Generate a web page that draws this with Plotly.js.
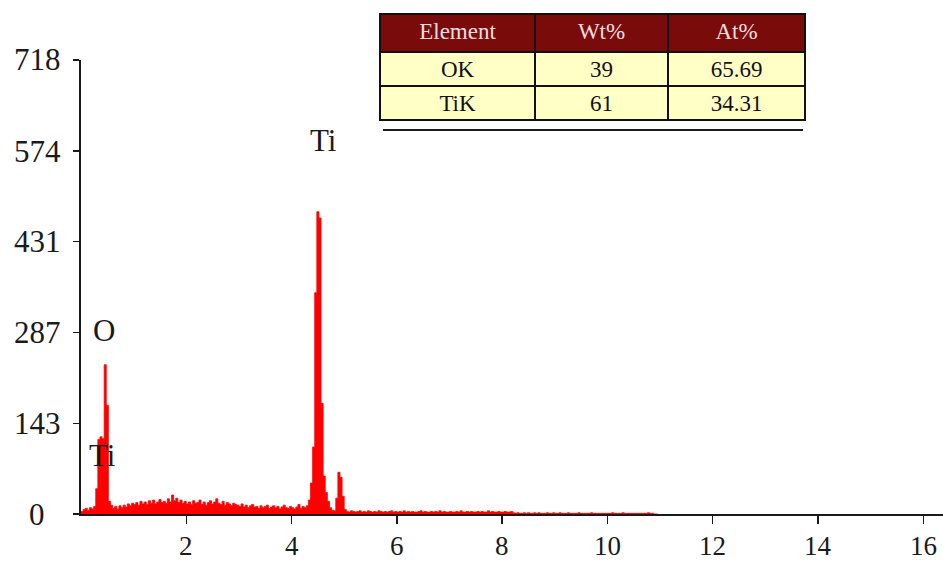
<!DOCTYPE html>
<html>
<head>
<meta charset="utf-8">
<script src="https://cdn.plot.ly/plotly-3.0.1.min.js"></script>
<style>
html,body{margin:0;padding:0;background:#fff;}
#chart{width:943px;height:562px;}
</style>
</head>
<body>
<div id="chart"></div>
<script>
// ---- data ----
const channelStart = 0.0;      // keV
const channelWidth = 0.04;     // keV
const counts = [
  // 0.00 - 0.96 keV
  4, 7, 9, 6, 10, 8, 12, 40, 118, 122, 119, 236, 172, 20, 14, 9, 12, 8, 13, 10, 14, 11, 16, 13, 17,
  // 1.00 - 1.96
  15, 18, 14, 20, 16, 19, 15, 21, 17, 22, 16, 19, 23, 18, 20, 17, 24, 19, 30, 21, 25, 18, 22, 17, 20,
  // 2.00 - 2.96
  16, 19, 15, 21, 17, 18, 22, 15, 19, 14, 18, 21, 16, 19, 24, 17, 15, 20, 14, 18, 16, 13, 17, 15, 14,
  // 3.00 - 3.96
  12, 16, 11, 14, 10, 13, 15, 11, 12, 9, 13, 10, 12, 14, 9, 11, 13, 10, 12, 8, 11, 14, 10, 9, 12,
  // 4.00 - 4.96
  10, 8, 11, 15, 9, 12, 10, 13, 22, 49, 106, 350, 478, 468, 175, 60, 34, 20, 10, 6, 5, 25, 66, 58, 28,
  // 5.00 - 5.96
  7, 4, 3, 5, 4, 3, 4, 5, 3, 4, 3, 5, 4, 3, 4, 3, 5, 4, 3, 4, 3, 4, 5, 3, 4,
  // 6.00 - 6.96
  3, 4, 3, 5, 3, 4, 3, 4, 3, 3, 4, 5, 3, 4, 3, 3, 4, 3, 4, 3, 5, 3, 4, 3, 3,
  // 7.00 - 7.96
  4, 3, 3, 4, 3, 5, 3, 3, 4, 3, 4, 3, 3, 4, 3, 4, 3, 3, 5, 3, 4, 3, 3, 4, 3,
  // 8.00 - 8.96
  3, 4, 3, 3, 4, 2, 1, 2, 1, 1, 2, 1, 2, 1, 1, 2, 1, 2, 1, 1, 1, 2, 1, 1, 2,
  // 9.00 - 9.96
  1, 1, 2, 1, 1, 1, 2, 1, 1, 1, 1, 2, 1, 1, 1, 1, 1, 2, 1, 1, 1, 1, 1, 1, 1,
  // 10.00 - 10.96
  1, 1, 2, 1, 1, 1, 1, 2, 1, 1, 1, 1, 1, 1, 1, 1, 1, 1, 1, 2, 1, 1, 0, 0, 0
];

const energyTicks = [2, 4, 6, 8, 10, 12, 14, 16];
const energyTickLabels = ["2", "4", "6", "8", "10", "12", "14", "16"];
const countTicks = [0, 143, 287, 431, 574, 718];
const countTickLabels = ["0", "143", "287", "431", "574", "718"];

const peakLabels = ["Ti", "O", "Ti"];
const peakLabelEnergy = [4.6, 0.44, 0.40];
const peakLabelCounts = [591, 291, 93];

const tableHeader = ["Element", "Wt%", "At%"];
const tableElements = ["OK", "TiK"];
const tableWt = ["39", "61"];
const tableAt = ["65.69", "34.31"];

// ---- layout ----
const W = 943, H = 562;
const mL = 81, mR = 0, mT = 10, mB = 48;
const plotW = W - mL - mR, plotH = H - mT - mB;
const axisTopPx = 60, axisBottomPx = 514;
const yDomTop = (axisBottomPx - axisTopPx) / plotH;
const px2fx = p => (p - mL) / plotW;
const px2fy = p => (H - mB - p) / plotH;

const serif = "Liberation Serif, Times New Roman, serif";
const ink = "#1a1a1a";

const spectrum = {
  type: "scatter",
  mode: "lines",
  x0: channelStart,
  dx: channelWidth,
  y: counts,
  line: {shape: "hv", color: "#ff0000", width: 0.8},
  fill: "tozeroy",
  fillcolor: "#ff0000",
  hoverinfo: "skip",
  xaxis: "x", yaxis: "y"
};

const table = {
  type: "table",
  domain: {x: [px2fx(380), px2fx(805)], y: [px2fy(140), px2fy(14)]},
  columnwidth: [155, 133, 137],
  header: {
    values: tableHeader.map(h => [h]),
    fill: {color: "#7a0b0b"},
    line: {color: "#111111", width: 2},
    font: {family: serif, size: 23, color: "#f6dede"},
    align: "center",
    height: 38
  },
  cells: {
    values: [tableElements, tableWt, tableAt],
    fill: {color: "#ffffc6"},
    line: {color: "#111111", width: 2},
    font: {family: serif, size: 23, color: "#111111"},
    align: "center",
    height: 34
  }
};

const annotations = [];
peakLabels.forEach((t, i) => {
  annotations.push({
    x: peakLabelEnergy[i], y: peakLabelCounts[i], xref: "x", yref: "y",
    text: t, showarrow: false, xanchor: "center", yanchor: "middle",
    font: {family: serif, size: 31, color: ink}
  });
});
countTicks.forEach((v, i) => {
  annotations.push({
    x: px2fx(37), y: v, xref: "paper", yref: "y",
    text: countTickLabels[i], showarrow: false, xanchor: "center", yanchor: "middle",
    font: {family: serif, size: 31, color: ink}
  });
});
energyTicks.forEach((v, i) => {
  annotations.push({
    x: v, y: px2fy(546), xref: "x", yref: "paper",
    text: energyTickLabels[i], showarrow: false, xanchor: "center", yanchor: "middle",
    font: {family: serif, size: 27, color: ink}
  });
});

const layout = {
  width: W, height: H,
  margin: {l: mL, r: mR, t: mT, b: mB, pad: 0},
  paper_bgcolor: "#ffffff",
  plot_bgcolor: "#ffffff",
  showlegend: false,
  font: {family: serif, color: ink},
  xaxis: {
    domain: [0, 1],
    range: [0, 16.375],
    tickvals: energyTicks,
    showticklabels: false,
    ticks: "outside", ticklen: 8, tickwidth: 1.5, tickcolor: ink,
    showline: true, linecolor: ink, linewidth: 2,
    showgrid: false, zeroline: false,
    anchor: "y", fixedrange: true
  },
  yaxis: {
    domain: [0, yDomTop],
    range: [0, 718],
    tickvals: countTicks,
    showticklabels: false,
    ticks: "outside", ticklen: 6, tickwidth: 1.5, tickcolor: ink,
    showline: true, linecolor: ink, linewidth: 2,
    showgrid: false, zeroline: false,
    anchor: "x", fixedrange: true
  },
  annotations: annotations,
  shapes: [{
    type: "line", xref: "paper", yref: "paper",
    x0: px2fx(383), x1: px2fx(803), y0: px2fy(130), y1: px2fy(130),
    line: {color: ink, width: 2}
  }]
};

Plotly.newPlot("chart", [spectrum, table], layout, {displayModeBar: false, staticPlot: true});
</script>
</body>
</html>
